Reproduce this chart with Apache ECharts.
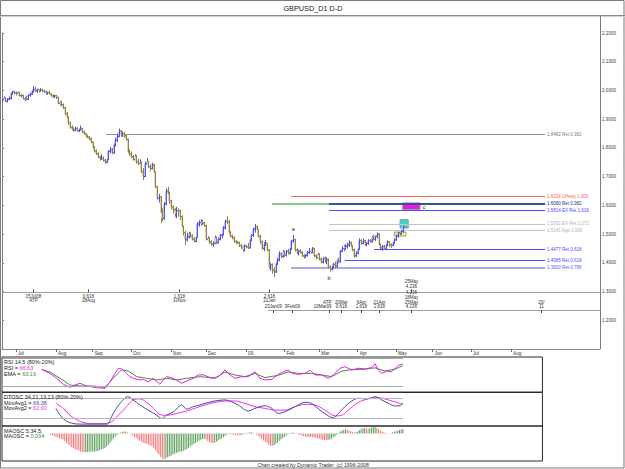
<!DOCTYPE html>
<html>
<head>
<meta charset="utf-8">
<title>GBPUSD_D1 D-D</title>
<script src="https://cdn.jsdelivr.net/npm/echarts@6.0.0/dist/echarts.min.js"></script>
<style>
  html, body { margin: 0; padding: 0; background: #fff; }
  #chart { width: 625px; height: 469px; }
</style>
</head>
<body>
<div id="chart"></div>
<script>
// x = trading-day index, 0 = 19 Jun 2008 (weekdays only)
const monthTicks = [8, 31, 52, 74, 97, 117, 140, 162, 182, 204, 226, 247, 269, 292]
const monthLabels = ['Jul', 'Aug', 'Sep', 'Oct', 'Nov', 'Dec', '09', 'Feb', 'Mar', 'Apr', 'May', 'Jun', 'Jul', 'Aug']

// daily bars [open, high, low, close]
const ohlc = [
  [1.965,1.972,1.958,1.968],[1.968,1.979,1.964,1.974],[1.974,1.976,1.960,1.962],[1.962,1.973,1.958,1.970],
  [1.970,1.979,1.966,1.972],[1.972,1.993,1.969,1.990],[1.990,1.998,1.985,1.995],[1.995,1.999,1.986,1.991],
  [1.991,1.997,1.982,1.990],[1.990,1.996,1.983,1.993],[1.993,1.995,1.979,1.982],[1.982,1.986,1.977,1.983],
  [1.983,1.985,1.968,1.971],[1.971,1.978,1.964,1.974],[1.974,1.982,1.966,1.969],[1.969,1.986,1.967,1.984],
  [1.984,1.992,1.978,1.987],[1.987,2.001,1.985,1.998],[1.998,2.015,1.993,2.004],[2.004,2.013,1.995,1.999],
  [1.999,2.007,1.992,2.003],[2.003,2.005,1.993,1.997],[1.997,2.008,1.995,2.003],[2.003,2.006,1.993,1.999],
  [1.999,2.002,1.991,1.996],[1.996,1.999,1.986,1.989],[1.989,1.996,1.985,1.993],[1.993,1.999,1.986,1.988],
  [1.988,1.990,1.978,1.981],[1.981,1.986,1.973,1.978],[1.978,1.985,1.975,1.981],
  [1.981,1.985,1.970,1.976],[1.976,1.978,1.952,1.955],[1.955,1.963,1.947,1.960],[1.960,1.963,1.945,1.951],
  [1.951,1.955,1.935,1.940],[1.940,1.942,1.914,1.920],[1.920,1.925,1.900,1.905],[1.905,1.910,1.880,1.888],
  [1.888,1.892,1.867,1.872],[1.872,1.878,1.860,1.866],[1.866,1.871,1.857,1.862],[1.862,1.874,1.858,1.868],
  [1.868,1.872,1.857,1.860],[1.860,1.868,1.855,1.864],[1.864,1.878,1.860,1.868],[1.868,1.870,1.851,1.855],
  [1.855,1.860,1.845,1.850],[1.850,1.852,1.836,1.840],[1.840,1.846,1.834,1.837],[1.837,1.842,1.826,1.831],
  [1.831,1.836,1.816,1.820],
  [1.820,1.822,1.796,1.800],[1.800,1.806,1.784,1.789],[1.789,1.795,1.775,1.780],[1.780,1.785,1.764,1.768],
  [1.768,1.773,1.755,1.762],[1.762,1.778,1.758,1.765],[1.765,1.770,1.752,1.757],[1.757,1.762,1.745,1.750],
  [1.750,1.765,1.747,1.760],[1.760,1.792,1.757,1.788],[1.788,1.803,1.780,1.795],[1.795,1.800,1.778,1.783],
  [1.783,1.818,1.780,1.812],[1.812,1.835,1.805,1.826],[1.826,1.850,1.820,1.840],[1.840,1.867,1.837,1.858],
  [1.858,1.862,1.839,1.845],[1.845,1.857,1.838,1.850],[1.850,1.856,1.836,1.842],[1.842,1.848,1.825,1.830],
  [1.830,1.833,1.780,1.785],[1.785,1.795,1.772,1.780],
  [1.780,1.788,1.765,1.770],[1.770,1.775,1.755,1.760],[1.760,1.778,1.752,1.772],[1.772,1.775,1.745,1.752],
  [1.752,1.762,1.740,1.746],[1.746,1.760,1.738,1.748],[1.748,1.752,1.712,1.718],[1.718,1.730,1.688,1.700],
  [1.700,1.752,1.698,1.745],[1.745,1.765,1.738,1.752],[1.752,1.755,1.730,1.735],[1.735,1.745,1.718,1.728],
  [1.728,1.748,1.725,1.740],[1.740,1.744,1.708,1.715],[1.715,1.718,1.660,1.665],[1.665,1.668,1.620,1.625],
  [1.625,1.640,1.610,1.630],[1.630,1.632,1.538,1.575],[1.575,1.590,1.545,1.555],[1.555,1.612,1.550,1.605],
  [1.605,1.660,1.600,1.650],[1.650,1.665,1.628,1.640],[1.640,1.648,1.605,1.615],
  [1.615,1.620,1.585,1.595],[1.595,1.600,1.572,1.585],[1.585,1.592,1.560,1.568],[1.568,1.595,1.555,1.582],
  [1.582,1.590,1.560,1.580],[1.580,1.586,1.550,1.560],[1.560,1.565,1.520,1.527],[1.527,1.530,1.495,1.505],
  [1.505,1.512,1.462,1.480],[1.480,1.505,1.475,1.490],[1.490,1.508,1.485,1.500],[1.500,1.506,1.488,1.495],
  [1.495,1.500,1.478,1.482],[1.482,1.490,1.470,1.475],[1.475,1.495,1.472,1.490],[1.490,1.542,1.488,1.535],
  [1.535,1.548,1.525,1.540],[1.540,1.552,1.530,1.545],[1.545,1.550,1.532,1.538],[1.538,1.542,1.525,1.530],
  [1.530,1.533,1.478,1.482],[1.482,1.492,1.475,1.486],[1.486,1.490,1.466,1.472],[1.472,1.480,1.458,1.465],
  [1.465,1.475,1.455,1.468],[1.468,1.495,1.465,1.488],[1.488,1.492,1.465,1.470],[1.470,1.488,1.467,1.482],
  [1.482,1.500,1.478,1.496],[1.496,1.505,1.485,1.500],[1.500,1.528,1.495,1.522],[1.522,1.550,1.515,1.545],
  [1.545,1.562,1.535,1.542],[1.542,1.548,1.500,1.505],[1.505,1.510,1.488,1.494],[1.494,1.498,1.482,1.488],
  [1.488,1.492,1.470,1.474],[1.474,1.480,1.465,1.472],[1.472,1.476,1.466,1.470],[1.470,1.474,1.455,1.460],
  [1.460,1.466,1.448,1.456],[1.456,1.460,1.438,1.444],[1.444,1.465,1.440,1.458],
  [1.458,1.462,1.450,1.455],[1.455,1.470,1.448,1.452],[1.452,1.485,1.450,1.480],[1.480,1.500,1.475,1.496],
  [1.496,1.522,1.490,1.516],[1.516,1.535,1.505,1.525],[1.525,1.530,1.508,1.515],[1.515,1.518,1.488,1.492],
  [1.492,1.498,1.465,1.474],[1.474,1.478,1.445,1.450],[1.450,1.472,1.440,1.465],[1.465,1.480,1.458,1.468],
  [1.468,1.470,1.440,1.445],[1.445,1.448,1.380,1.385],[1.385,1.400,1.372,1.392],[1.392,1.398,1.362,1.375],
  [1.375,1.385,1.350,1.368],[1.368,1.405,1.365,1.398],[1.398,1.418,1.392,1.410],[1.410,1.440,1.405,1.432],
  [1.432,1.436,1.415,1.422],[1.422,1.445,1.418,1.438],
  [1.438,1.442,1.420,1.427],[1.427,1.445,1.422,1.440],[1.440,1.448,1.428,1.434],[1.434,1.455,1.430,1.450],
  [1.450,1.480,1.445,1.476],[1.476,1.497,1.470,1.480],[1.480,1.484,1.440,1.445],[1.445,1.450,1.430,1.436],
  [1.436,1.446,1.425,1.440],[1.440,1.448,1.432,1.437],[1.437,1.440,1.420,1.424],[1.424,1.430,1.415,1.420],
  [1.420,1.430,1.418,1.425],[1.425,1.442,1.422,1.436],[1.436,1.452,1.430,1.440],[1.440,1.448,1.432,1.436],
  [1.436,1.455,1.433,1.450],[1.450,1.453,1.420,1.424],[1.424,1.430,1.412,1.418],[1.418,1.435,1.412,1.430],
  [1.430,1.432,1.408,1.413],[1.413,1.418,1.398,1.402],[1.402,1.420,1.398,1.414],[1.414,1.422,1.400,1.408],
  [1.408,1.420,1.395,1.412],[1.412,1.415,1.380,1.385],[1.385,1.392,1.370,1.378],[1.378,1.395,1.374,1.386],
  [1.386,1.400,1.380,1.395],[1.395,1.405,1.382,1.388],[1.388,1.412,1.385,1.408],[1.408,1.418,1.398,1.405],
  [1.405,1.445,1.400,1.440],[1.440,1.458,1.438,1.450],[1.450,1.462,1.440,1.448],[1.448,1.465,1.445,1.458],
  [1.458,1.470,1.450,1.462],[1.462,1.478,1.455,1.470],[1.470,1.474,1.450,1.458],[1.458,1.462,1.440,1.446],
  [1.446,1.450,1.418,1.424],[1.424,1.440,1.420,1.434],
  [1.434,1.455,1.430,1.448],[1.448,1.485,1.445,1.478],[1.478,1.482,1.462,1.468],[1.468,1.485,1.465,1.476],
  [1.476,1.480,1.458,1.463],[1.463,1.472,1.458,1.467],[1.467,1.482,1.462,1.478],[1.478,1.482,1.468,1.474],
  [1.474,1.494,1.470,1.490],[1.490,1.498,1.478,1.483],[1.483,1.495,1.476,1.492],[1.492,1.506,1.485,1.500],
  [1.500,1.503,1.460,1.464],[1.464,1.468,1.448,1.452],[1.452,1.462,1.442,1.457],[1.457,1.462,1.445,1.448],
  [1.448,1.466,1.445,1.462],[1.462,1.478,1.458,1.474],[1.474,1.476,1.455,1.462],[1.462,1.468,1.452,1.460],
  [1.460,1.478,1.458,1.470],[1.470,1.485,1.466,1.480],
  [1.480,1.498,1.476,1.493],[1.493,1.508,1.488,1.504],[1.504,1.510,1.495,1.503],[1.503,1.515,1.498,1.510],
  [1.510,1.528,1.505,1.5242]
]
const lastPrice = 1.5242

// Fibonacci price levels
const fibPrice = [1.8482, 1.6324, 1.6060, 1.6060, 1.5814, 1.5352, 1.5141, 1.4477, 1.4085, 1.3820]
const fibName = ['Ret 0.382', 'UHesp 1.000', 'Ret 0.382', 'Ret 0.382', 'EX Ret 1.618', 'EX Ret 1.272',
  'App 1.000', 'Ret 0.618', 'Ret 0.618', 'Ret 0.786']
const fibFrom = [59.7, 165.8, 154.9, 187.6, 187.6, 187.6, 187.6, 213.4, 196.7, 165.8]
const fibTo = 311.5

// target boxes [fromIdx, toIdx, low, high]
const boxes = [
  [229.8, 239.8, 1.5855, 1.6085],
  [228.3, 233.0, 1.5210, 1.5503],
  [225.0, 231.7, 1.4932, 1.5071]
]
// swing labels [idx, price, text]
const swings = [[167.1, 1.5167, 'a'], [187.6, 1.3461, 'b'], [242.1, 1.5943, 'c']]

// time projections
const timeHi = 1.2974
const timeLo = 1.2357
const timeHiMarks = [[17.9, '15Jul08\nATP'], [49.5, '0.618\n28Aug'], [101.4, '1.618\n10Nov'], [153.0, '2.618\n21Jan']]
const timeHiAbove = [[234.6, '25May\n4.236']]
const timeLoMarks = [[155.3, '23Jan09'], [166.2, '9Feb09'], [187.7, 'ATP\n10Mar09'], [194.5, '20Mar\n0.618'],
  [205.7, '6Apr\n1.618'], [216.2, '21Apr\n2.618'], [234.6, '4.236\n18May\n25May\n4.236'], [309.0, '20/\n11']]

// RSI 14,5 and its EMA  [idx, value]
const rsi = [[22.8,55.8],[27.5,47],[31.4,36.5],[35.2,23.6],[39.0,17.2],[41.9,22],[44.7,25.8],[48.6,20],[54.3,16.4],
  [59.1,15],[62.0,29],[64.8,47],[66.7,58],[68.7,56.4],[71.5,47],[73.4,40],[75.3,36.5],[79.2,33],[81.0,34],[83.9,29],
  [86.8,36.5],[90.6,23.6],[92.5,33],[94.5,40],[98.3,36.5],[103.1,25.8],[105.9,30.7],[109.7,36.5],[112.6,43.6],
  [115.5,44],[120.3,36.5],[124.1,40],[127.9,54.3],[130.8,43.6],[133.6,36.5],[137.5,40],[141.3,40],[145.1,50.7],
  [148.0,36.5],[150.9,33],[154.7,34],[158.5,45],[161.4,50.7],[164.2,54.3],[166.5,47],[170.0,45],[173.8,47],
  [176.7,53.7],[179.5,43.6],[183.4,43.6],[187.2,36.5],[190.0,43.6],[193.9,58],[196.7,61.4],[200.6,54.3],[204.4,58],
  [208.2,56.4],[212.1,59.6],[214.0,67.8],[215.8,54.3],[217.8,47],[220.7,52],[223.5,50.7],[227.3,64.3],[229.8,66.63]]
const rsiEma = [[22.8,55],[27.5,50],[33.3,36.5],[39.0,22],[44.7,20],[52.4,20],[59.1,17],[63.8,36.5],[68.7,55],
  [72.4,52],[77.3,40],[83.0,36.5],[88.7,33],[94.5,36.5],[100.2,33],[105.9,36.5],[113.6,40],[119.3,38],[122.2,36.5],
  [127.9,50],[133.6,43.6],[139.4,40],[145.1,47],[150.9,38],[158.5,43],[164.2,50],[170.0,47],[177.6,47],[183.4,43.6],
  [189.1,40],[194.9,52],[200.6,55],[208.2,56],[213.9,59],[219.7,52],[225.4,56],[229.8,63.19]]

// DTOSC 34,21,13,13
const dtoscAvg1 = [[31.0,49.6],[33.3,28.4],[37.1,9.5],[42.8,1],[48.6,0.5],[54.3,0.5],[60.1,0.5],[63.8,33.7],
  [67.7,65],[72.1,86],[75.3,75.8],[79.2,60],[83.9,44],[88.7,28.4],[91.6,18],[94.5,28.4],[98.3,39],[103.1,60],
  [105.9,47],[109.7,55],[113.6,60],[116.4,65],[122.2,72.6],[127.9,75.8],[131.8,70],[135.5,60],[141.3,41],
  [145.1,49.5],[150.9,57.9],[154.7,49.5],[158.5,33.7],[162.3,39],[168.1,54.7],[173.8,68.4],[177.6,65],[182.4,44],
  [187.2,26],[190.0,20],[192.9,33.7],[196.7,55],[200.6,72.6],[204.4,81],[208.2,79],[212.1,83],[214.0,86],
  [217.8,75.8],[221.6,65],[225.4,57],[228.3,58],[229.8,66.38]]
const dtoscAvg2 = [[31.0,65.3],[35.2,49.5],[39.0,28],[44.7,9.5],[50.5,2],[56.2,2],[61.9,5],[66.7,28],[71.5,55],
  [75.3,76],[79.2,79],[83.0,68],[86.8,49.5],[90.6,30.5],[94.5,28],[100.2,33.7],[105.9,41],[111.7,52],[116.4,60],
  [122.2,68],[127.9,72.6],[133.6,72.6],[139.4,65],[145.1,55],[150.9,49.5],[156.6,44],[162.3,44],[168.1,55],
  [173.8,62],[179.5,60],[185.3,44],[191.0,26],[194.9,28],[198.6,44],[204.4,68],[210.1,79],[215.8,83],[221.6,75.8],
  [226.4,68.4],[229.8,62.60]]

// MAOSC 5,34 - one value per bar from maoscStart
const maoscStart = 28
const maosc = [
  -0.010,-0.015,-0.020,-0.025,-0.030,-0.036,-0.041,-0.046,-0.058,-0.070,-0.080,-0.092,-0.105,-0.112,-0.120,-0.126,
  -0.132,-0.138,-0.141,-0.143,-0.142,-0.141,-0.140,-0.139,-0.138,-0.137,-0.136,-0.133,-0.128,-0.122,-0.116,-0.110,
  -0.100,-0.086,-0.070,-0.055,-0.038,-0.024,-0.012,-0.003,0.006,0.012,0.016,0.015,0.008,0.000,-0.006,-0.015,
  -0.024,-0.034,-0.045,-0.055,-0.063,-0.070,-0.074,-0.078,-0.084,-0.091,-0.098,-0.110,-0.128,-0.146,-0.162,-0.178,
  -0.190,-0.197,-0.190,-0.182,-0.176,-0.170,-0.160,-0.154,-0.148,-0.143,-0.140,-0.136,-0.132,-0.126,-0.118,-0.110,
  -0.100,-0.090,-0.080,-0.072,-0.062,-0.055,-0.048,-0.042,-0.038,-0.046,-0.058,-0.066,-0.072,-0.074,-0.070,-0.062,
  -0.054,-0.046,-0.038,-0.028,-0.018,-0.008,-0.004,-0.006,-0.008,-0.010,-0.012,-0.013,-0.014,-0.012,-0.008,-0.003,
  0.002,0.005,0.008,0.010,0.006,0.000,-0.008,-0.018,-0.030,-0.042,-0.054,-0.062,-0.072,-0.086,-0.095,-0.097,
  -0.090,-0.080,-0.070,-0.058,-0.046,-0.036,-0.026,-0.016,-0.006,0.002,0.006,0.008,0.004,-0.002,-0.008,-0.012,
  -0.016,-0.020,-0.022,-0.025,-0.026,-0.025,-0.028,-0.031,-0.034,-0.037,-0.040,-0.045,-0.049,-0.051,-0.052,-0.050,
  -0.046,-0.040,-0.031,-0.022,-0.010,0.004,0.016,0.024,0.028,0.031,0.030,0.024,0.018,0.012,0.008,0.010,
  0.016,0.026,0.034,0.040,0.042,0.038,0.035,0.040,0.045,0.050,0.052,0.044,0.034,0.024,0.016,0.010,
  0.006,0.002,0.000,0.004,0.008,0.013,0.018,0.022,0.026,0.030,0.034
]

// indicator read-outs shown in the panel headers
const readouts = { rsi: '66.63', ema: '63.19', avg1: '66.38', avg2: '62.60', maosc: '0.034' }

const SANS = '"Liberation Sans", Arial, sans-serif'
const UP = '#5050f2', DOWN = '#928543'
const UP_LIGHT = '#c4c4f7', DOWN_LIGHT = '#ddd6b3'
const RSI_C = '#f018f0', EMA_C = '#3d8f3d', AVG1_C = '#4a4a9a', AVG2_C = '#f030f0'

const chart = echarts.init(document.getElementById('chart'), null, { renderer: 'svg' })

const barData = ohlc.map((b, i) => [i, b[0], b[1], b[2], b[3]])

function renderBar(params, api) {
  const i = api.value(0)
  const pO = api.coord([i, api.value(1)])
  const pH = api.coord([i, api.value(2)])
  const pL = api.coord([i, api.value(3)])
  const pC = api.coord([i, api.value(4)])
  const up = api.value(4) >= api.value(1)
  const col = up ? UP : DOWN
  const x = Math.round(pO[0]) + 0.5
  const top = Math.min(pO[1], pC[1])
  return {
    type: 'group',
    children: [
      { type: 'rect', shape: { x: x - 1.5, y: top, width: 2, height: Math.max(1, Math.abs(pO[1] - pC[1])) },
        style: { fill: up ? UP_LIGHT : DOWN_LIGHT } },
      { type: 'line', shape: { x1: x, y1: pH[1], x2: x, y2: pL[1] }, style: { stroke: col, lineWidth: 1 } },
      { type: 'line', shape: { x1: x - 1.5, y1: pO[1], x2: x, y2: pO[1] }, style: { stroke: col, lineWidth: 1 } },
      { type: 'line', shape: { x1: x, y1: pC[1], x2: x + 1.5, y2: pC[1] }, style: { stroke: col, lineWidth: 1 } }
    ]
  }
}

// time projection marks: dir 1 = tick up, text below; -1 = tick down, text above; 2 = tick up, text above
const timeRows = []
timeHiMarks.forEach(m => timeRows.push([m[0], timeHi, 1, m[1]]))
timeHiAbove.forEach(m => timeRows.push([m[0], timeHi, 2, m[1]]))
timeLoMarks.forEach(m => timeRows.push([m[0], timeLo, -1, m[1]]))

function renderTime(params, api) {
  const row = timeRows[params.dataIndex]
  const p = api.coord([row[0], row[1]])
  const x = Math.round(p[0]) + 0.5
  const y = p[1]
  const dir = row[2]
  const tickUp = dir > 0
  const textAbove = dir !== 1
  // when the next mark on the same line is close, hang this label to the left of its tick
  const next = timeRows[params.dataIndex + 1]
  const crowded = next && next[1] === row[1] && next[0] - row[0] < 8
  return {
    type: 'group',
    children: [
      { type: 'line', shape: { x1: x, y1: tickUp ? y - 3 : y, x2: x, y2: tickUp ? y : y + 3 },
        style: { stroke: '#505050', lineWidth: 1 } },
      { type: 'text', style: {
        text: row[3], x: crowded ? x + 2 : x, y: textAbove ? (tickUp ? y - 3.5 : y - 1) : y + 1.5,
        align: crowded ? 'right' : 'center', verticalAlign: textAbove ? 'bottom' : 'top',
        fontSize: 4.5, lineHeight: 4.6, fontFamily: SANS, fill: '#303030' } }
    ]
  }
}

const fibColor = ['#909090', '#ff5a5a', '#8cc88c', '#1e2a80', '#4a4aff', '#c4c4c4', '#c4c4c4', '#4a4aff', '#4a4aff', '#a8a8ee']
const fibText = ['#808080', '#ff5a5a', '#4a9a4a', '#1e2a80', '#4a4aff', '#b0b0b0', '#b0b0b0', '#4a4aff', '#4a4aff', '#6060e0']
const fibWidth = [1, 1, 2, 1.5, 1, 1, 1, 1, 1, 2]
const fibLines = fibPrice.map((p, k) => [
  { coord: [fibFrom[k], p], lineStyle: { color: fibColor[k], width: fibWidth[k], type: 'solid' },
    label: { show: k !== 2, position: 'end', distance: 2, formatter: p.toFixed(4) + ' ' + fibName[k],
      color: fibText[k], fontSize: 4.5, fontFamily: SANS } },
  { coord: [fibTo, p] }
])
fibLines.push([
  { coord: [ohlc.length - 1, lastPrice], lineStyle: { opacity: 0 },
    label: { show: true, position: 'end', distance: 1, formatter: lastPrice.toFixed(4), color: '#000',
      backgroundColor: '#ffff00', padding: [1, 2, 1, 1], fontSize: 4.5, fontFamily: SANS } },
  { coord: [343, lastPrice] }
])
fibLines.push([{ coord: [0, timeHi], lineStyle: { color: '#a0a0a0', width: 1, type: 'solid' }, label: { show: false } },
  { coord: [343, timeHi] }])
fibLines.push([{ coord: [152.5, timeLo], lineStyle: { color: '#a0a0a0', width: 1, type: 'solid' }, label: { show: false } },
  { coord: [343, timeLo] }])

const boxColor = ['#ee18ee', '#3ad8d0', '#ffff20']
const boxAreas = boxes.map((b, k) => [
  { coord: [b[0], b[3]], itemStyle: { color: boxColor[k], borderColor: '#9a9a9a', borderWidth: 1, opacity: 1 } },
  { coord: [b[1], b[2]] }
])

const maoscData = maosc.map((v, k) => [maoscStart + k, v])

function header(y, name, value, color) {
  return { type: 'text', z: 50, style: {
    x: 4, y: y, verticalAlign: 'middle', fontSize: 5.5, fontFamily: SANS, fill: '#202020',
    text: '{n|' + name + '} {v|' + value + '}',
    rich: { n: { fontSize: 5.5, fontFamily: SANS, fill: '#202020' }, v: { fontSize: 5.5, fontFamily: SANS, fill: color } } } }
}
function caption(y, text) {
  return { type: 'text', z: 50, style: { text: text, x: 4, y: y, verticalAlign: 'middle', fontSize: 5.5, fontFamily: SANS, fill: '#202020' } }
}

const option = {
  animation: false,
  backgroundColor: '#ffffff',
  grid: [
    { left: 2, top: 33, width: 598, height: 316 },
    { left: 2, top: 357, width: 540.45, height: 35, show: true, borderColor: '#2a2a2a', borderWidth: 1 },
    { left: 2, top: 392.5, width: 540.45, height: 33.5, show: true, borderColor: '#2a2a2a', borderWidth: 1 },
    { left: 2, top: 426, width: 540.45, height: 35, show: true, borderColor: '#2a2a2a', borderWidth: 1 }
  ],
  xAxis: [
    { type: 'value', gridIndex: 0, min: 0, max: 343, splitLine: { show: false },
      axisLine: { lineStyle: { color: '#8a8a8a' } },
      axisTick: { customValues: monthTicks, length: 3, lineStyle: { color: '#6a6a6a' } },
      axisLabel: { customValues: monthTicks, formatter: v => monthLabels[monthTicks.indexOf(v)] || '',
        align: 'left', margin: 2, fontSize: 4.6, color: '#303030', fontFamily: SANS, padding: [0, 0, 0, 2] } },
    { type: 'value', gridIndex: 1, min: 0, max: 310, show: false },
    { type: 'value', gridIndex: 2, min: 0, max: 310, show: false },
    { type: 'value', gridIndex: 3, min: 0, max: 310, show: false }
  ],
  yAxis: [
    { type: 'value', gridIndex: 0, position: 'right', min: 1.1, max: 2.2, interval: 0.1, splitLine: { show: false },
      axisLine: { show: true, lineStyle: { color: '#7a7a7a' } },
      axisTick: { show: true, length: 2, lineStyle: { color: '#7a7a7a' } },
      axisLabel: { formatter: v => (v < 1.15 ? '' : v.toFixed(4)), fontSize: 4.6, margin: 2, color: '#404040', fontFamily: SANS } },
    { type: 'value', gridIndex: 1, min: 7.14, max: 82.14, show: false },
    { type: 'value', gridIndex: 2, min: -5.3, max: 98.9, show: false },
    { type: 'value', gridIndex: 3, min: -0.21, max: 0.0575, show: false }
  ],
  series: [
    { type: 'custom', name: 'GBPUSD', xAxisIndex: 0, yAxisIndex: 0, renderItem: renderBar, data: barData,
      encode: { x: 0, y: [1, 2, 3, 4] }, clip: true, z: 3,
      markLine: { symbol: ['none', 'none'], silent: true, data: fibLines, z: 2 },
      markArea: { silent: true, data: boxAreas, z: 1 },
      markPoint: { symbol: 'circle', symbolSize: 0, silent: true,
        label: { show: true, position: 'inside', formatter: p => p.name, fontSize: 5.5, color: '#303030', fontFamily: SANS },
        data: swings.map(s => ({ coord: [s[0], s[1]], name: s[2] })) } },
    { type: 'custom', name: 'time', xAxisIndex: 0, yAxisIndex: 0, renderItem: renderTime,
      data: timeRows.map(r => [r[0], r[1]]), clip: false, z: 4 },
    { type: 'line', name: 'RSI', xAxisIndex: 1, yAxisIndex: 1, data: rsi, showSymbol: false,
      lineStyle: { color: RSI_C, width: 1 }, z: 3,
      markLine: { symbol: ['none', 'none'], silent: true, label: { show: false },
        lineStyle: { color: '#a8a8a8', width: 1, type: 'solid' },
        data: [[{ coord: [0, 80] }, { coord: [230, 80] }], [{ coord: [0, 20] }, { coord: [230, 20] }]] } },
    { type: 'line', name: 'EMA', xAxisIndex: 1, yAxisIndex: 1, data: rsiEma, showSymbol: false,
      lineStyle: { color: EMA_C, width: 1 }, z: 2 },
    { type: 'line', name: 'MovAvg1', xAxisIndex: 2, yAxisIndex: 2, data: dtoscAvg1, showSymbol: false, smooth: 0.3,
      lineStyle: { color: AVG1_C, width: 1 }, z: 3,
      markLine: { symbol: ['none', 'none'], silent: true, label: { show: false },
        lineStyle: { color: '#b4b4c4', width: 1, type: 'solid' },
        data: [[{ coord: [0, 80] }, { coord: [230, 80] }], [{ coord: [0, 20] }, { coord: [230, 20] }]] } },
    { type: 'line', name: 'MovAvg2', xAxisIndex: 2, yAxisIndex: 2, data: dtoscAvg2, showSymbol: false, smooth: 0.3,
      lineStyle: { color: AVG2_C, width: 1 }, z: 2 },
    { type: 'bar', name: 'MAOSC', xAxisIndex: 3, yAxisIndex: 3, data: maoscData, barWidth: 1,
      itemStyle: { color: p => (p.dataIndex > 0 && maosc[p.dataIndex] > maosc[p.dataIndex - 1]) ? '#5c9e5c' : '#f07878' } }
  ],
  graphic: [
    { type: 'rect', shape: { x: 0.5, y: 0.5, width: 623.5, height: 467.5 }, style: { fill: 'none', stroke: '#7a7a7a', lineWidth: 1 }, z: 50 },
    { type: 'line', shape: { x1: 0, y1: 15.5, x2: 625, y2: 15.5 }, style: { stroke: '#8a8a8a', lineWidth: 1 }, z: 50 },
    { type: 'line', shape: { x1: 0, y1: 16.5, x2: 625, y2: 16.5 }, style: { stroke: '#d0d0d0', lineWidth: 1 }, z: 50 },
    { type: 'line', shape: { x1: 600.5, y1: 16, x2: 600.5, y2: 349 }, style: { stroke: '#7a7a7a', lineWidth: 1 }, z: 50 },
    { type: 'text', z: 50, style: { text: 'GBPUSD_D1 D-D', x: 313, y: 8, align: 'center', verticalAlign: 'middle', fontSize: 7.3, fontFamily: SANS, fill: '#202020' } },
    { type: 'text', z: 50, style: { text: 'Chart created by Dynamic Trader  (c) 1996-2008', x: 313, y: 464.5, align: 'center', verticalAlign: 'middle', fontSize: 5.2, fontFamily: SANS, fill: '#303030' } },
    caption(361.7, 'RSI 14,5 (80%-20%)'),
    header(367.7, 'RSI =', readouts.rsi, RSI_C),
    header(373.7, 'EMA =', readouts.ema, EMA_C),
    caption(396.7, 'DTOSC 34,21,13,13 (80%-20%)'),
    header(402.7, 'MovAvg1 =', readouts.avg1, AVG1_C),
    header(408.3, 'MovAvg2 =', readouts.avg2, AVG2_C),
    caption(430.7, 'MAOSC 5,34,5,'),
    header(435.7, 'MAOSC =', readouts.maosc, EMA_C)
  ]
}

chart.setOption(option)
</script>
</body>
</html>
